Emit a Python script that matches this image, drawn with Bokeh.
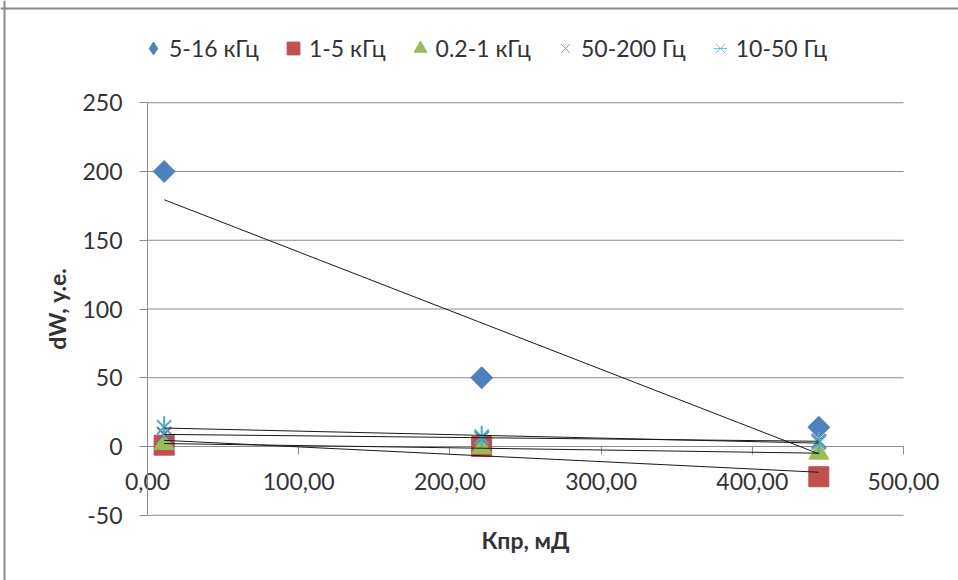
import numpy as np
from bokeh.plotting import figure
from bokeh.models import FixedTicker, Legend, LegendItem, Span
from bokeh.embed import file_html
from bokeh.resources import INLINE

# ---- data ----
x_kpr = [11, 221, 444]
s_5_16k = [200, 50, 14]
s_1_5k = [1, 0, -22]
s_02_1k = [2, -1, -5]
s_50_200 = [9, 6, 4]
s_10_50 = [14, 7, 3]
series_names = ["5-16 кГц", "1-5 кГц", "0.2-1 кГц", "50-200 Гц", "10-50 Гц"]
x_ticks = [0, 100, 200, 300, 400, 500]
x_tick_labels = ["0,00", "100,00", "200,00", "300,00", "400,00", "500,00"]
y_ticks = [-50, 0, 50, 100, 150, 200, 250]
y_tick_labels = ["-50", "0", "50", "100", "150", "200", "250"]

FONT = "Lato"
FS = "23px"
GRID = "#8c8c8c"
TXT = "#333333"
C_BLUE, C_RED, C_GREEN, C_PURPLE, C_CYAN = "#4F81BD", "#C0504D", "#9BBB59", "#8064A2", "#4BACC6"

# ---- layout (pixels) ----
W, H = 958, 580
X0_PX, X_PER = 147.0, 1.512      # pixel of x=0, px per unit
Y0_PX, Y_PER = 446.0, 1.375      # pixel of y=0, px per unit
x_lo = (0 - X0_PX) / X_PER
x_hi = (W - X0_PX) / X_PER
y_hi = (Y0_PX - 0) / Y_PER
y_lo = (Y0_PX - H) / Y_PER

p = figure(width=W, height=H, x_range=(x_lo, x_hi), y_range=(y_lo, y_hi),
           output_backend="svg", toolbar_location=None,
           min_border_left=0, min_border_right=0,
           min_border_top=0, min_border_bottom=0)
p.outline_line_color = None
p.background_fill_color = "white"
p.border_fill_color = "white"
p.xgrid.visible = False
p.ygrid.visible = False

# chart border (top and left)
p.add_layout(Span(location=(Y0_PX - 8) / Y_PER, dimension="width",
                  line_color="#8a8a8a", line_width=2))
p.add_layout(Span(location=(4 - X0_PX) / X_PER, dimension="height",
                  line_color="#8a8a8a", line_width=2))

# horizontal gridlines over the plot area
p.segment(x0=[x_ticks[0]] * len(y_ticks), x1=[x_ticks[-1]] * len(y_ticks),
          y0=y_ticks, y1=y_ticks, line_color=GRID, line_width=1)

# y axis at x=0
yax = p.yaxis[0]
yax.fixed_location = 0
yax.bounds = (y_ticks[0], y_ticks[-1])
yax.ticker = FixedTicker(ticks=y_ticks)
yax.major_label_overrides = {t: l for t, l in zip(y_ticks, y_tick_labels)}
yax.minor_tick_line_color = None
yax.major_tick_out = 8
yax.major_tick_in = 0
yax.axis_line_color = GRID
yax.major_tick_line_color = GRID
yax.major_label_text_font = FONT
yax.major_label_text_font_size = FS
yax.major_label_text_color = TXT
yax.major_label_standoff = 17
yax.axis_label = "dW, у.е."
yax.axis_label_text_font = FONT
yax.axis_label_text_font_size = FS
yax.axis_label_text_font_style = "bold"
yax.axis_label_text_color = TXT
yax.axis_label_standoff = 8
yax.level = "underlay"

# x axis crossing at y=0
xax = p.xaxis[0]
xax.fixed_location = 0
xax.bounds = (x_ticks[0], x_ticks[-1])
xax.ticker = FixedTicker(ticks=x_ticks)
xax.major_label_overrides = {t: l for t, l in zip(x_ticks, x_tick_labels)}
xax.minor_tick_line_color = None
xax.major_tick_out = 8
xax.major_tick_in = 0
xax.axis_line_color = GRID
xax.major_tick_line_color = GRID
xax.major_label_text_font = FONT
xax.major_label_text_font_size = FS
xax.major_label_text_color = TXT
xax.major_label_standoff = 18
xax.axis_label = "Кпр, мД"
xax.axis_label_text_font = FONT
xax.axis_label_text_font_size = FS
xax.axis_label_text_font_style = "bold"
xax.axis_label_text_color = TXT
xax.axis_label_standoff = 33
xax.level = "underlay"

# legend-style glyphs, drawn first and hidden beneath the plot markers
l1 = p.scatter(x_kpr, s_5_16k, marker="diamond", size=12,
               fill_color=C_BLUE, line_color=C_BLUE)
l4 = p.scatter(x_kpr, s_50_200, marker="x", size=12,
               line_color="#a08cc0", line_width=1)
l5a = p.scatter(x_kpr, s_10_50, marker="x", size=12,
                line_color="#6cc4dc", line_width=1)
l5b = p.scatter(x_kpr, s_10_50, marker="dash", angle=np.pi / 2, size=12,
                line_color="#6cc4dc", line_width=1)

# markers
r1 = p.scatter(x_kpr, s_5_16k, marker="square", angle=np.pi / 4, size=15.5,
               fill_color=C_BLUE, line_color=C_BLUE)
r2 = p.scatter(x_kpr, s_1_5k, marker="square", size=20,
               fill_color=C_RED, line_color=C_RED)
r3 = p.scatter(x_kpr, s_02_1k, marker="triangle", size=20,
               fill_color=C_GREEN, line_color=C_GREEN)
r4 = p.scatter(x_kpr, s_50_200, marker="x", size=20,
               line_color=C_PURPLE, line_width=2)
r5a = p.scatter(x_kpr, s_10_50, marker="x", size=20,
                line_color=C_CYAN, line_width=2)
r5b = p.scatter(x_kpr, s_10_50, marker="dash", angle=np.pi / 2, size=22,
                line_color=C_CYAN, line_width=2)

# linear trend lines
for ys in [s_5_16k, s_1_5k, s_02_1k, s_50_200, s_10_50]:
    k, b = np.polyfit(x_kpr, ys, 1)
    xs = [min(x_kpr), max(x_kpr)]
    p.line(xs, [k * v + b for v in xs], line_color="#1a1a1a", line_width=1)

legend = Legend(
    items=[LegendItem(label=series_names[0], renderers=[l1]),
           LegendItem(label=series_names[1], renderers=[r2]),
           LegendItem(label=series_names[2], renderers=[r3]),
           LegendItem(label=series_names[3], renderers=[l4]),
           LegendItem(label=series_names[4], renderers=[l5a, l5b])],
    orientation="horizontal", location=(137, 516),
    glyph_width=32, glyph_height=32, label_standoff=-4, spacing=18,
    padding=0, margin=0, border_line_color=None, background_fill_alpha=0,
    label_text_font=FONT, label_text_font_size=FS, label_text_color=TXT)
p.add_layout(legend)

open("out.html", "w").write(file_html(p, INLINE))
